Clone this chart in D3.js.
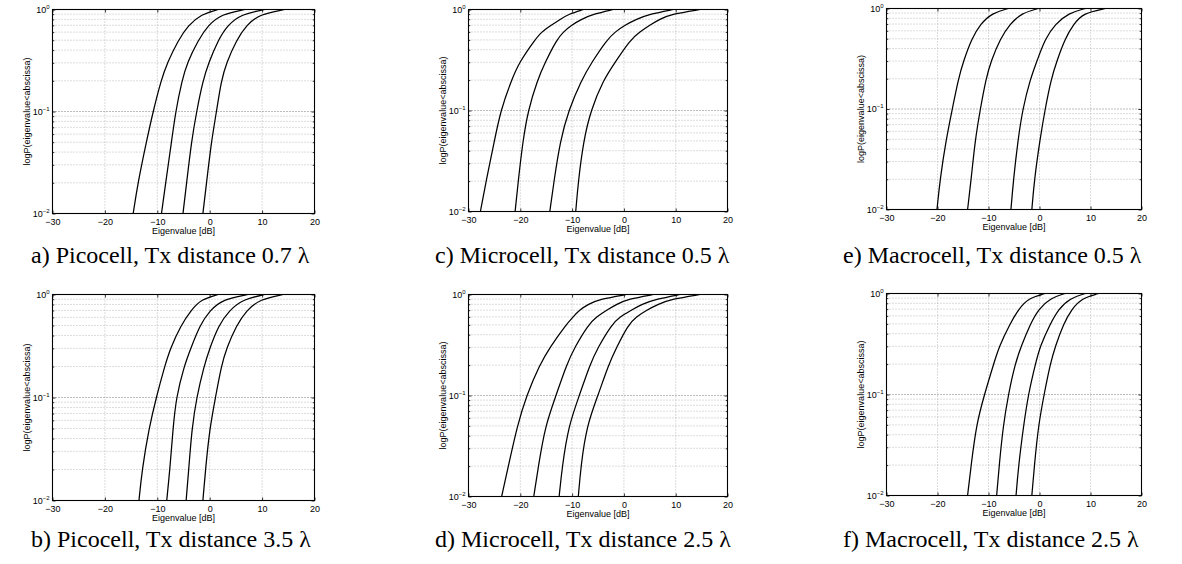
<!DOCTYPE html>
<html>
<head>
<meta charset="utf-8">
<script src="https://cdn.jsdelivr.net/npm/d3@7"></script>
<style>
    body { margin: 0; background: #fff; }
    svg { display: block; }
    .tick text { font-family: "Liberation Sans", Arial, sans-serif; font-size: 9px; fill: #000; }
    .tick line { stroke: #000; stroke-width: 0.8; }
    .axis-title { font-family: "Liberation Sans", Arial, sans-serif; font-size: 9px; fill: #000; }
    .caption { font-family: "Liberation Serif", "Times New Roman", serif; font-size: 24px; fill: #000; }
</style>
</head>
<body>
<svg id="chart" width="1182" height="564"></svg>
<script>
// --- Données (x en dB pour chaque niveau de probabilité) ---
const picoLevels = [0.01, 0.02, 0.05, 0.1, 0.2, 0.3, 0.5, 0.7, 0.9, 1];
const microLevels = [0.01, 0.02, 0.05, 0.1, 0.2, 0.3, 0.5, 0.6, 0.7, 0.8, 0.9, 1];

const picoShort = [
    [-14.6, -13.7, -12.1, -10.8, -9.3, -8.1, -6.0, -4.1, -1.6, 1.6],
    [-9.2, -8.4, -7.3, -6.5, -5.3, -4.3, -2.2, -0.3, 2.2, 6.7],
    [-5.1, -4.4, -3.5, -2.5, -1.3, -0.2, 1.6, 3.4, 6.0, 10.5],
    [-1.3, -0.6, 0.3, 1.3, 2.2, 3.2, 5.1, 7.0, 9.5, 14.3]
];
const picoLong = [
    [-13.5, -12.9, -11.6, -10.2, -8.6, -7.5, -5.5, -3.6, -1.6, 1.6],
    [-8.2, -7.6, -7.0, -6.4, -4.9, -3.6, -1.9, 0.0, 2.5, 7.3],
    [-4.5, -4.0, -3.4, -2.5, -1.1, 0.0, 1.7, 3.7, 6.4, 10.5],
    [-1.3, -0.8, 0.0, 1.1, 2.2, 3.2, 5.1, 7.0, 9.6, 14.0]
];
const microShort = [
    [-27.7, -26.6, -25.0, -23.8, -21.7, -20.2, -17.2, -15.9, -14.0, -12.3, -10.7, -7.8],
    [-21.0, -20.4, -19.5, -18.5, -16.7, -15.2, -13.0, -11.7, -10.1, -8.2, -5.9, -2.1],
    [-14.3, -13.5, -12.3, -10.7, -8.2, -6.2, -3.3, -1.7, 0.2, 2.4, 5.0, 9.5],
    [-9.3, -8.8, -7.8, -6.4, -4.0, -1.7, 1.2, 3.1, 5.0, 6.9, 9.2, 14.7]
];
const microLong = [
    [-23.6, -22.3, -20.6, -18.8, -16.3, -14.3, -11.2, -9.8, -8.6, -6.9, -4.6, 0.5],
    [-17.4, -16.5, -15.2, -13.1, -11.1, -9.5, -6.9, -5.3, -3.3, -1.4, 0.8, 5.7],
    [-12.5, -11.9, -10.7, -8.6, -6.6, -5.0, -2.4, -0.8, 1.5, 3.4, 6.3, 10.8],
    [-8.8, -8.3, -7.2, -5.0, -3.0, -1.4, 0.8, 2.4, 4.4, 6.6, 9.2, 14.7]
];
const macroShort = [
    [-20.1, -19.5, -18.3, -17.1, -15.9, -14.9, -13.3, -11.6, -9.3, -6.1],
    [-14.1, -13.4, -12.6, -11.6, -10.5, -9.5, -7.7, -5.8, -3.5, -0.2],
    [-5.6, -5.1, -4.2, -3.3, -1.8, -0.5, 1.1, 3.1, 5.7, 9.0],
    [-1.5, -1.0, 0.1, 1.1, 2.3, 3.4, 5.0, 6.7, 8.6, 12.9]
];
const macroLong = [
    [-14.1, -13.4, -12.4, -10.8, -9.0, -7.9, -5.8, -4.1, -2.2, 1.1],
    [-8.4, -7.9, -7.1, -6.1, -4.8, -3.6, -1.8, -0.2, 2.1, 5.0],
    [-4.6, -4.1, -3.1, -2.2, -0.8, 0.1, 2.1, 3.7, 6.0, 9.0],
    [-1.5, -1.0, -0.2, 0.9, 2.1, 3.1, 4.7, 6.3, 8.3, 11.6]
];

const xTicks = [-30, -20, -10, 0, 10, 20];
const yTicks = [0.01, 0.1, 1];
const yExponents = ["\u22122", "\u22121", "0"];
const yMinor = [0.02, 0.03, 0.04, 0.05, 0.06, 0.07, 0.08, 0.09, 0.2, 0.3, 0.4, 0.5, 0.6, 0.7, 0.8, 0.9];

const captions = [
    "a) Picocell, Tx distance 0.7 \u03bb",
    "b) Picocell, Tx distance 3.5 \u03bb",
    "c) Microcell, Tx distance 0.5 \u03bb",
    "d) Microcell, Tx distance 2.5 \u03bb",
    "e) Macrocell, Tx distance 0.5 \u03bb",
    "f) Macrocell, Tx distance 2.5 \u03bb"
];
const xTitle = "Eigenvalue [dB]";
const yTitle = "logP(eigenvalue<abscissa)";

// --- Mise en page des six sous-figures ---
const panels = [
    { levels: picoLevels, curves: picoShort, l: 52.5, r: 314.5, t: 9.5, b: 213.5, capX: 31, capY: 263 },
    { levels: picoLevels, curves: picoLong, l: 52.5, r: 314.5, t: 294.5, b: 500.5, capX: 31, capY: 547 },
    { levels: microLevels, curves: microShort, l: 468.5, r: 727.5, t: 9.5, b: 211.5, capX: 435, capY: 263 },
    { levels: microLevels, curves: microLong, l: 468.5, r: 727.5, t: 294.5, b: 496.5, capX: 435, capY: 547 },
    { levels: picoLevels, curves: macroShort, l: 886.5, r: 1141.5, t: 8.5, b: 209.5, capX: 843, capY: 263 },
    { levels: picoLevels, curves: macroLong, l: 886.5, r: 1141.5, t: 293.5, b: 495.5, capX: 843, capY: 547 }
];

const svg = d3.select('#chart');

panels.forEach((p, i) => {
    const x = d3.scaleLinear().domain([-30, 20]).range([p.l, p.r]);
    const y = d3.scaleLog().domain([0.01, 1]).range([p.b, p.t]);
    const g = svg.append('g');

    // Grille pointillée
    const grid = g.append('g')
        .attr('stroke', '#a8a8a8')
        .attr('stroke-width', 0.8)
        .attr('stroke-dasharray', '1,2');
    grid.selectAll('line.gx')
        .data(xTicks.slice(1, -1))
        .join('line')
        .attr('x1', d => x(d)).attr('x2', d => x(d))
        .attr('y1', p.t).attr('y2', p.b);
    grid.selectAll('line.gy')
        .data(yMinor.concat([0.1]))
        .join('line')
        .attr('x1', p.l).attr('x2', p.r)
        .attr('y1', d => y(d)).attr('y2', d => y(d))
        .attr('stroke', d => d === 0.1 ? '#555' : null);

    // Axes (graduations vers l'intérieur)
    g.append('g')
        .attr('transform', `translate(0,${p.b})`)
        .call(d3.axisBottom(x).tickValues(xTicks).tickSize(-3).tickPadding(5)
            .tickFormat(d3.format('d')));
    g.append('g')
        .attr('transform', `translate(0,${p.t})`)
        .call(d3.axisTop(x).tickValues(xTicks).tickSize(-3).tickFormat(''));

    const yAxis = g.append('g')
        .attr('transform', `translate(${p.l},0)`)
        .call(d3.axisLeft(y).tickValues(yTicks).tickSize(-3).tickFormat(''));
    g.append('g')
        .attr('transform', `translate(${p.l},0)`)
        .call(d3.axisLeft(y).tickValues(yMinor).tickSize(-1.8).tickFormat(''));
    g.append('g')
        .attr('transform', `translate(${p.r},0)`)
        .call(d3.axisRight(y).tickValues(yTicks).tickSize(-3).tickFormat(''));
    g.append('g')
        .attr('transform', `translate(${p.r},0)`)
        .call(d3.axisRight(y).tickValues(yMinor).tickSize(-1.8).tickFormat(''));
    g.selectAll('.domain').remove();

    // Libellés 10^n
    yAxis.selectAll('.tick').each(function (d, k) {
        const t = d3.select(this).append('text')
            .attr('x', -3)
            .attr('dy', '0.32em')
            .attr('text-anchor', 'end');
        t.append('tspan').text('10');
        t.append('tspan').attr('dy', -4).style('font-size', '6px').text(yExponents[k]);
    });

    // Cadre
    g.append('rect')
        .attr('x', p.l).attr('y', p.t)
        .attr('width', p.r - p.l).attr('height', p.b - p.t)
        .attr('fill', 'none')
        .attr('stroke', '#000')
        .attr('stroke-width', 1.1);

    // Courbes de répartition
    const line = d3.line()
        .x(d => x(d[0]))
        .y(d => y(d[1]))
        .curve(d3.curveBasis);
    g.append('g')
        .selectAll('path')
        .data(p.curves)
        .join('path')
        .attr('d', c => line(c.map((v, k) => [v, p.levels[k]])))
        .attr('fill', 'none')
        .attr('stroke', '#000')
        .attr('stroke-width', 1.25);

    // Titres des axes
    g.append('text')
        .attr('class', 'axis-title')
        .attr('x', (p.l + p.r) / 2)
        .attr('y', p.b + 20)
        .attr('text-anchor', 'middle')
        .text(xTitle);
    g.append('text')
        .attr('class', 'axis-title')
        .attr('transform', `translate(${p.l - 23},${(p.t + p.b) / 2}) rotate(-90)`)
        .attr('text-anchor', 'middle')
        .text(yTitle);

    // Légende de la sous-figure
    svg.append('text')
        .attr('class', 'caption')
        .attr('x', p.capX)
        .attr('y', p.capY)
        .text(captions[i]);
});
</script>
</body>
</html>
